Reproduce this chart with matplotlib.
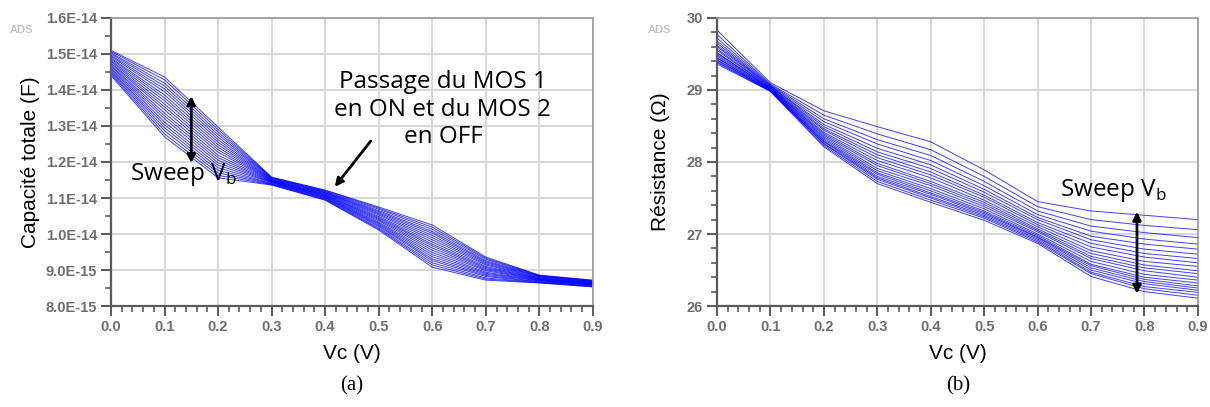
import matplotlib
matplotlib.use("Agg")
import matplotlib.pyplot as plt
import numpy as np
from matplotlib.ticker import FixedLocator, FuncFormatter

plt.rcParams['mathtext.fontset'] = 'custom'
plt.rcParams['mathtext.rm'] = 'Open Sans'

# Vc sweep (V)
vc = [0.0, 0.1, 0.2, 0.3, 0.4, 0.5, 0.6, 0.7, 0.8, 0.9]

# total capacitance (x1e-14 F), one row per Vb value
cap = [
    [1.510, 1.436, 1.297, 1.158, 1.122, 1.075, 1.025, 0.936, 0.886, 0.872],
    [1.507, 1.428, 1.290, 1.157, 1.121, 1.072, 1.019, 0.933, 0.885, 0.871],
    [1.503, 1.419, 1.283, 1.156, 1.119, 1.069, 1.013, 0.930, 0.884, 0.870],
    [1.500, 1.411, 1.276, 1.155, 1.118, 1.065, 1.007, 0.926, 0.883, 0.869],
    [1.496, 1.403, 1.269, 1.154, 1.116, 1.062, 1.002, 0.923, 0.882, 0.868],
    [1.493, 1.395, 1.262, 1.152, 1.115, 1.059, 0.996, 0.920, 0.881, 0.867],
    [1.489, 1.386, 1.255, 1.151, 1.114, 1.056, 0.990, 0.917, 0.879, 0.866],
    [1.486, 1.378, 1.248, 1.150, 1.112, 1.053, 0.984, 0.914, 0.878, 0.865],
    [1.482, 1.370, 1.241, 1.149, 1.111, 1.049, 0.978, 0.910, 0.877, 0.864],
    [1.479, 1.361, 1.234, 1.148, 1.109, 1.046, 0.972, 0.907, 0.876, 0.863],
    [1.475, 1.353, 1.227, 1.147, 1.108, 1.043, 0.967, 0.904, 0.875, 0.863],
    [1.472, 1.345, 1.219, 1.146, 1.107, 1.040, 0.961, 0.901, 0.874, 0.862],
    [1.468, 1.336, 1.212, 1.145, 1.105, 1.037, 0.955, 0.898, 0.873, 0.861],
    [1.465, 1.328, 1.205, 1.144, 1.104, 1.033, 0.949, 0.894, 0.872, 0.860],
    [1.461, 1.320, 1.198, 1.143, 1.102, 1.030, 0.943, 0.891, 0.871, 0.859],
    [1.458, 1.311, 1.191, 1.142, 1.101, 1.027, 0.937, 0.888, 0.870, 0.858],
    [1.454, 1.303, 1.184, 1.140, 1.100, 1.024, 0.931, 0.885, 0.868, 0.857],
    [1.451, 1.295, 1.177, 1.139, 1.098, 1.021, 0.926, 0.882, 0.867, 0.856],
    [1.447, 1.287, 1.170, 1.138, 1.097, 1.017, 0.920, 0.878, 0.866, 0.855],
    [1.444, 1.278, 1.163, 1.137, 1.095, 1.014, 0.914, 0.875, 0.865, 0.854],
    [1.440, 1.270, 1.156, 1.136, 1.094, 1.011, 0.908, 0.872, 0.864, 0.853],
]

# resistance (ohm), one row per Vb value
res = [
    [29.83, 29.10, 28.71, 28.49, 28.28, 27.89, 27.45, 27.32, 27.26, 27.20],
    [29.77, 29.08, 28.65, 28.39, 28.17, 27.80, 27.38, 27.20, 27.12, 27.06],
    [29.72, 29.07, 28.60, 28.31, 28.09, 27.73, 27.32, 27.11, 27.02, 26.95],
    [29.68, 29.06, 28.56, 28.25, 28.02, 27.67, 27.27, 27.04, 26.93, 26.86],
    [29.65, 29.05, 28.52, 28.19, 27.96, 27.62, 27.23, 26.97, 26.86, 26.79],
    [29.62, 29.05, 28.49, 28.14, 27.91, 27.58, 27.20, 26.92, 26.79, 26.72],
    [29.60, 29.04, 28.46, 28.10, 27.86, 27.54, 27.16, 26.87, 26.73, 26.66],
    [29.57, 29.03, 28.44, 28.06, 27.82, 27.51, 27.13, 26.82, 26.68, 26.60],
    [29.55, 29.03, 28.41, 28.02, 27.78, 27.47, 27.10, 26.77, 26.62, 26.55],
    [29.52, 29.02, 28.39, 27.98, 27.73, 27.44, 27.07, 26.73, 26.57, 26.49],
    [29.51, 29.02, 28.37, 27.95, 27.70, 27.41, 27.05, 26.69, 26.53, 26.45],
    [29.49, 29.01, 28.35, 27.91, 27.67, 27.38, 27.03, 26.66, 26.49, 26.40],
    [29.47, 29.01, 28.33, 27.88, 27.63, 27.35, 27.00, 26.62, 26.44, 26.36],
    [29.45, 29.00, 28.31, 27.85, 27.60, 27.32, 26.98, 26.58, 26.40, 26.32],
    [29.44, 29.00, 28.29, 27.83, 27.57, 27.30, 26.96, 26.56, 26.37, 26.28],
    [29.42, 28.99, 28.28, 27.80, 27.55, 27.28, 26.95, 26.53, 26.34, 26.25],
    [29.41, 28.99, 28.26, 27.78, 27.52, 27.26, 26.93, 26.50, 26.31, 26.22],
    [29.39, 28.99, 28.25, 27.76, 27.50, 27.24, 26.91, 26.47, 26.27, 26.19],
    [29.38, 28.98, 28.23, 27.73, 27.47, 27.22, 26.89, 26.45, 26.24, 26.15],
    [29.36, 28.98, 28.21, 27.70, 27.44, 27.19, 26.87, 26.41, 26.20, 26.11],
]

# tick positions
x_ticks = [0.0, 0.1, 0.2, 0.3, 0.4, 0.5, 0.6, 0.7, 0.8, 0.9]
cap_ticks = [0.8e-14, 0.9e-14, 1.0e-14, 1.1e-14, 1.2e-14, 1.3e-14, 1.4e-14, 1.5e-14, 1.6e-14]
res_ticks = [26, 27, 28, 29, 30]

fig = plt.figure(figsize=(12.1, 4.07), dpi=100)
ax1 = fig.add_axes([0.0917, 0.248, 0.3983, 0.708])
ax2 = fig.add_axes([0.5926, 0.248, 0.3974, 0.708])

tick_col = '#6e6e6e'


def style(ax):
    ax.set_xlim(0, 0.9)
    ax.xaxis.set_major_locator(FixedLocator(x_ticks))
    ax.xaxis.set_minor_locator(FixedLocator(np.arange(0, 0.901, 0.02)))
    ax.xaxis.set_major_formatter(FuncFormatter(lambda v, p: f"{v:.1f}"))
    ax.grid(True, which='major', color='#d4d4d4', lw=1.3)
    ax.set_axisbelow(True)
    for s in ['top', 'right']:
        ax.spines[s].set_color('#9a9a9a')
        ax.spines[s].set_linewidth(1.2)
    for s in ['left', 'bottom']:
        ax.spines[s].set_color('#5a5a5a')
        ax.spines[s].set_linewidth(1.6)
    ax.tick_params(which='major', direction='out', length=7, width=1.4,
                   color='#5a5a5a', labelcolor=tick_col, labelsize=10.5, pad=3)
    ax.tick_params(which='minor', direction='out', length=4, width=1.2,
                   color='#5a5a5a')
    for lab in ax.get_xticklabels() + ax.get_yticklabels():
        lab.set_fontweight('bold')
        lab.set_family('Liberation Sans')
    ax.set_xlabel('Vc (V)', fontsize=15, family='Liberation Sans', labelpad=7)


# (a) capacitance
for row in cap:
    ax1.plot(vc, np.array(row) * 1e-14, color='#0000ff', lw=0.7, alpha=0.75)
ax1.set_ylim(0.8e-14, 1.6e-14)
ax1.yaxis.set_major_locator(FixedLocator(cap_ticks))
ax1.yaxis.set_minor_locator(FixedLocator(np.arange(0.85e-14, 1.6e-14, 0.1e-14)))
ax1.yaxis.set_major_formatter(FuncFormatter(lambda v, p: f"{v:.1E}"))
style(ax1)
ax1.set_ylabel('Capacité totale (F)', fontsize=15, family='Liberation Sans', labelpad=4)

ax1.annotate('', xy=(0.15, 1.197e-14), xytext=(0.15, 1.383e-14),
             arrowprops=dict(arrowstyle='<|-|>', color='black', lw=2,
                             mutation_scale=12, shrinkA=0, shrinkB=0))
ax1.text(0.035, 1.164e-14, 'Sweep V$_\\mathrm{b}$', fontsize=17.5, family='Open Sans',
         va='center', ha='left')
ax1.text(0.62, 1.345e-14, 'Passage du MOS 1\nen ON et du MOS 2\nen OFF',
         fontsize=17.5, family='Open Sans', va='center', ha='center', linespacing=1.2)
ax1.annotate('', xy=(0.418, 1.131e-14), xytext=(0.485, 1.258e-14),
             arrowprops=dict(arrowstyle='-|>', color='black', lw=2,
                             mutation_scale=12, shrinkA=0, shrinkB=0))

# (b) resistance
for row in res:
    ax2.plot(vc, row, color='#0000ff', lw=0.7, alpha=0.75)
ax2.set_ylim(26, 30)
ax2.yaxis.set_major_locator(FixedLocator(res_ticks))
ax2.yaxis.set_minor_locator(FixedLocator(np.arange(26, 30.01, 0.2)))
ax2.yaxis.set_major_formatter(FuncFormatter(lambda v, p: f"{v:.0f}"))
style(ax2)
ax2.set_ylabel('Résistance (Ω)', fontsize=15, family='Liberation Sans', labelpad=12)

ax2.annotate('', xy=(0.786, 26.17), xytext=(0.786, 27.31),
             arrowprops=dict(arrowstyle='<|-|>', color='black', lw=2,
                             mutation_scale=12, shrinkA=0, shrinkB=0))
ax2.text(0.642, 27.61, 'Sweep V$_\\mathrm{b}$', fontsize=17.5, family='Open Sans',
         va='center', ha='left')

# ADS watermark
fig.text(10 / 1210, 1 - 30 / 407, 'ADS', fontsize=8, color='#c4c4c4',
         fontweight='bold', va='center', family='Liberation Sans')
fig.text(648 / 1210, 1 - 30 / 407, 'ADS', fontsize=8, color='#c4c4c4',
         fontweight='bold', va='center', family='Liberation Sans')

# sub-figure captions
fig.text(352 / 1210, 1 - 386 / 407, '(a)', fontsize=15, family='Liberation Serif',
         ha='center', va='center')
fig.text(958 / 1210, 1 - 386 / 407, '(b)', fontsize=15, family='Liberation Serif',
         ha='center', va='center')

fig.savefig('out.png', dpi=100)
